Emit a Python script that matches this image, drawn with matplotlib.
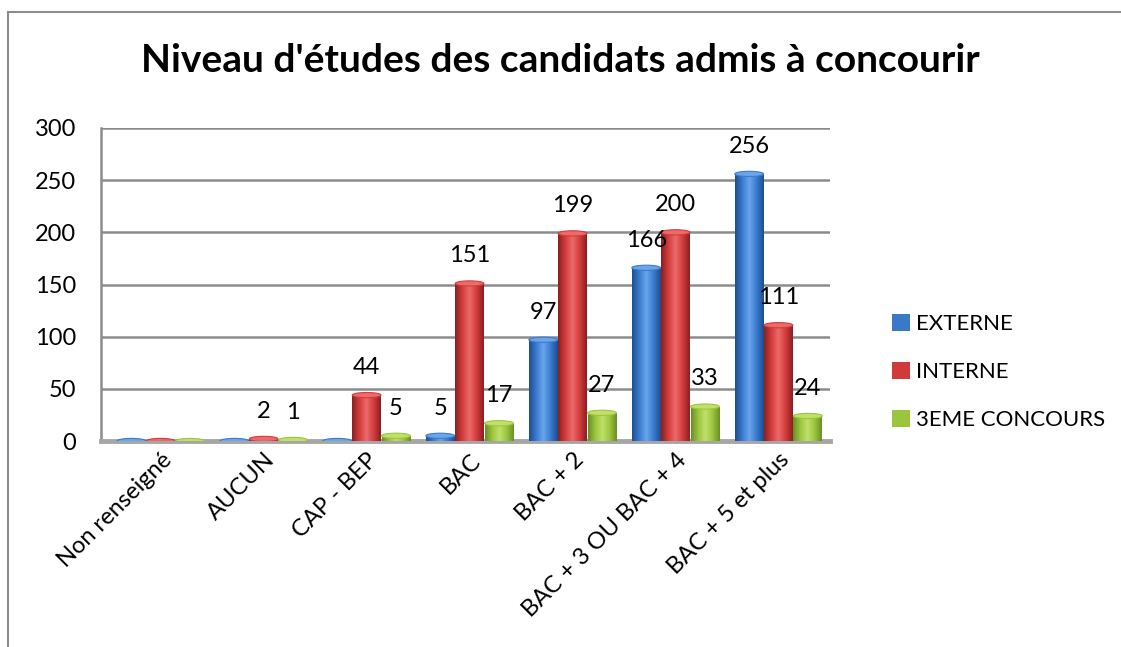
import numpy as np
import matplotlib
matplotlib.use("Agg")
import matplotlib.pyplot as plt
from matplotlib.patches import Ellipse, Patch
from matplotlib.lines import Line2D
from matplotlib.colors import LinearSegmentedColormap

plt.rcParams['font.family'] = ['Lato', 'DejaVu Sans']

categories = ['Non renseigné', 'AUCUN', 'CAP - BEP', 'BAC', 'BAC + 2',
              'BAC + 3 OU BAC + 4', 'BAC + 5 et plus']
series_names = ['EXTERNE', 'INTERNE', '3EME CONCOURS']
externe = [0, 0, 0, 5, 97, 166, 256]
interne = [0, 2, 44, 151, 199, 200, 111]
troisieme = [0, 1, 5, 17, 27, 33, 24]
yticks = [0, 50, 100, 150, 200, 250, 300]

# (dark edge, mid, highlight) per series
shades = [('#1d4e8f', '#3a7bd0', '#6aa6ea'),
          ('#8a1f1f', '#d43c3c', '#ec6a6a'),
          ('#6a8f28', '#9cc63e', '#c0e06a')]
legend_cols = ['#3a78c8', '#d03a3a', '#9bc53d']

fig = plt.figure(figsize=(11.21, 6.47), dpi=100)
ax = fig.add_axes([101 / 1121, 1 - 441 / 647, 729 / 1121, 313 / 647])

x = np.arange(len(categories))
w = 0.285
offsets = [-w, 0, w]
data = [externe, interne, troisieme]

ax.set_xlim(-0.58, 6.5)
ax.set_ylim(0, 300)

for vals, off, sh in zip(data, offsets, shades):
    cmap = LinearSegmentedColormap.from_list('c', [sh[0], sh[1], sh[2], sh[1], sh[0]])
    grad = np.linspace(0, 1, 64).reshape(1, -1)
    bars = ax.bar(x + off, vals, width=w * 0.98, color=sh[1], linewidth=0, zorder=3)
    for b, v in zip(bars, vals):
        bx, by, bw, bh = b.get_x(), b.get_y(), b.get_width(), b.get_height()
        if bh > 0:
            im = ax.imshow(grad, extent=[bx, bx + bw, by, by + bh], aspect='auto',
                           cmap=cmap, zorder=3, interpolation='bilinear')
            im.set_clip_path(b)
        cap = Ellipse((bx + bw / 2, by + bh), bw, 5.0, facecolor=sh[2],
                      edgecolor=sh[1], linewidth=0.8, zorder=4)
        ax.add_patch(cap)
        if v > 0:
            ax.annotate(str(v), (bx + bw / 2, v), xytext=(0, 20), textcoords='offset points',
                        ha='center', va='center', fontsize=17, color='black', zorder=5)

ax.set_xlim(-0.58, 6.5)
ax.set_ylim(0, 300)

ax.set_yticks(yticks)
ax.set_yticklabels([str(t) for t in yticks], fontsize=17)
ax.tick_params(axis='y', length=0, pad=18)
ax.set_xticks(x)
ax.set_xticklabels(categories, rotation=45, ha='right', va='top',
                   rotation_mode='anchor', fontsize=17)
ax.tick_params(axis='x', length=0, pad=6)

ax.grid(axis='y', color='#8c8c8c', linewidth=1.8, zorder=0)
ax.set_axisbelow(True)
for s in ['top', 'right']:
    ax.spines[s].set_visible(False)
ax.spines['left'].set_color('#8c8c8c')
ax.spines['left'].set_linewidth(1.8)
ax.spines['bottom'].set_color('#a6a6a6')
ax.spines['bottom'].set_linewidth(3.5)

fig.text(0.5, 1 - 60 / 647, "Niveau d'études des candidats admis à concourir",
         ha='center', va='center', fontsize=28, fontweight='bold')

handles = [Patch(facecolor=c, edgecolor='none') for c in legend_cols]
fig.legend(handles, series_names, loc='center left',
           bbox_to_anchor=(872 / 1121, 1 - 372 / 647), frameon=False,
           fontsize=16, handlelength=0.8, handleheight=0.8, handletextpad=0.3,
           labelspacing=1.25)

fig.add_artist(Line2D([8 / 1121, 1], [1 - 12 / 647, 1 - 12 / 647],
                      color='#8c8c8c', linewidth=1.5))
fig.add_artist(Line2D([8 / 1121, 8 / 1121], [0, 1 - 12 / 647],
                      color='#8c8c8c', linewidth=1.5))

fig.savefig('out.png', dpi=100)
